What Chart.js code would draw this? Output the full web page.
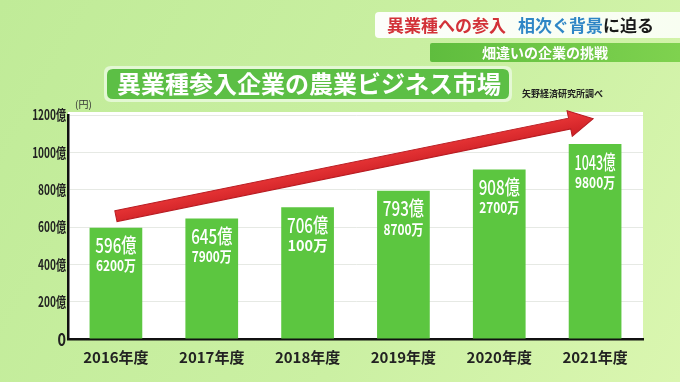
<!DOCTYPE html>
<html>
<head>
<meta charset="utf-8">
<script src="https://cdn.jsdelivr.net/npm/chart.js@4.4.1/dist/chart.umd.min.js"></script>
<style>
  html, body { margin: 0; padding: 0; background: #c8eea0; }
  #c { display: block; }
</style>
</head>
<body>
<canvas id="c" width="680" height="382"></canvas>
<script>
// ---- data ----
const years = ['2016年度', '2017年度', '2018年度', '2019年度', '2020年度', '2021年度'];
const okuPart = [596, 645, 706, 793, 908, 1043];     // 億円
const manPart = [6200, 7900, 100, 8700, 2700, 9800];  // 万円
const marketValues = okuPart.map((o, i) => o + manPart[i] / 10000);
const yTickValues = [0, 200, 400, 600, 800, 1000, 1200];
const yTickLabels = ['0', '200億', '400億', '600億', '800億', '1000億', '1200億'];

const headlineRed = '異業種への参入';
const headlineBlue = '相次ぐ背景';
const headlineBlack = 'に迫る';
const subHeadline = '畑違いの企業の挑戦';
const chartTitle = '異業種参入企業の農業ビジネス市場';
const sourceNote = '矢野経済研究所調べ';
const unitNote = '(円)';

const JP = "'Noto Sans CJK JP', 'Noto Sans', sans-serif";

function roundRect(ctx, x, y, w, h, r) {
  ctx.beginPath();
  ctx.moveTo(x + r, y);
  ctx.lineTo(x + w - r, y);
  ctx.quadraticCurveTo(x + w, y, x + w, y + r);
  ctx.lineTo(x + w, y + h - r);
  ctx.quadraticCurveTo(x + w, y + h, x + w - r, y + h);
  ctx.lineTo(x + r, y + h);
  ctx.quadraticCurveTo(x, y + h, x, y + h - r);
  ctx.lineTo(x, y + r);
  ctx.quadraticCurveTo(x, y, x + r, y);
  ctx.closePath();
}

const decorPlugin = {
  id: 'decor',
  beforeDraw(chart) {
    const ctx = chart.ctx;
    const W = chart.width, H = chart.height;
    const a = chart.chartArea;
    ctx.save();
    const g = ctx.createLinearGradient(0, 0, W, H);
    g.addColorStop(0, '#c0eb98');
    g.addColorStop(0.6, '#cbf0a3');
    g.addColorStop(1, '#daf6b0');
    ctx.fillStyle = g;
    ctx.fillRect(0, 0, W, H);
    // plot panel
    ctx.fillStyle = '#ffffff';
    ctx.fillRect(a.left, a.top - 3, a.right - a.left, a.bottom - a.top + 3);

    // headline banner (white)
    const bg = ctx.createLinearGradient(375, 0, 680, 0);
    bg.addColorStop(0, 'rgba(255,255,255,0.95)');
    bg.addColorStop(1, 'rgba(250,255,245,0.95)');
    ctx.fillStyle = bg;
    roundRect(ctx, 375, 12, 320, 26, 4);
    ctx.fill();
    ctx.textBaseline = 'middle';
    ctx.textAlign = 'left';
    ctx.font = 'bold 17px ' + JP;
    ctx.fillStyle = '#d23238';
    ctx.fillText(headlineRed, 387, 26);
    ctx.fillStyle = '#2f86c6';
    ctx.fillText(headlineBlue, 518, 26);
    ctx.fillStyle = '#1a1a1a';
    ctx.fillText(headlineBlack, 603, 26);

    // sub headline (green)
    const sg = ctx.createLinearGradient(430, 0, 680, 0);
    sg.addColorStop(0, '#5fbd3e');
    sg.addColorStop(1, '#7fd24f');
    ctx.fillStyle = sg;
    roundRect(ctx, 430, 43, 260, 19, 2);
    ctx.fill();
    ctx.font = 'bold 14px ' + JP;
    ctx.fillStyle = '#ffffff';
    ctx.fillText(subHeadline, 482, 53);

    // title box
    ctx.fillStyle = 'rgba(235,250,225,0.8)';
    roundRect(ctx, 104, 66, 408, 36, 7);
    ctx.fill();
    ctx.fillStyle = '#5cbf45';
    roundRect(ctx, 107, 69, 402, 30, 6);
    ctx.fill();
    ctx.font = 'bold 24px ' + JP;
    ctx.fillStyle = '#ffffff';
    ctx.textAlign = 'center';
    ctx.fillText(chartTitle, 309, 84, 390);

    // source note
    ctx.font = 'bold 9px ' + JP;
    ctx.fillStyle = '#222';
    ctx.textAlign = 'left';
    ctx.fillText(sourceNote, 522, 94);

    // unit
    ctx.font = '10px ' + JP;
    ctx.fillStyle = '#333';
    ctx.fillText(unitNote, 75, 104);
    ctx.restore();
  },
  afterDraw(chart) {
    // y-axis tick labels (condensed lettering, placed by the y scale)
    const ctx = chart.ctx;
    const ys = chart.scales.y;
    ctx.save();
    ctx.fillStyle = '#222';
    ctx.textAlign = 'right';
    ctx.textBaseline = 'middle';
    yTickValues.forEach((v, i) => {
      const y = ys.getPixelForValue(v);
      ctx.save();
      ctx.translate(ys.right - 2, v === 0 ? y + 1 : y);
      if (v === 0) {
        ctx.font = 'bold 17px ' + JP;
        ctx.scale(0.85, 1);
      } else {
        ctx.font = 'bold 14px ' + JP;
        ctx.scale(0.72, 1);
      }
      ctx.fillText(yTickLabels[i], 0, 0);
      ctx.restore();
    });
    ctx.restore();
  },
  afterDatasetsDraw(chart) {
    const ctx = chart.ctx;
    const xs = chart.scales.x, ys = chart.scales.y;
    const meta = chart.getDatasetMeta(0);
    ctx.save();
    // bar value labels
    ctx.textAlign = 'center';
    ctx.textBaseline = 'middle';
    ctx.fillStyle = '#ffffff';
    meta.data.forEach((el, i) => {
      const w = el.width;
      ctx.font = '500 20px ' + JP;
      ctx.fillText(okuPart[i] + '億', el.x, el.y + 18, w * 0.78);
      ctx.font = 'bold 15px ' + JP;
      ctx.fillText(manPart[i] + '万', el.x, el.y + 38, w * 0.76);
    });

    // trend arrow
    const x0 = xs.getPixelForValue(0), y0 = ys.getPixelForValue(658);
    const x1 = xs.getPixelForValue(4.98), y1 = ys.getPixelForValue(1180);
    const ang = Math.atan2(y1 - y0, x1 - x0);
    const len = Math.hypot(x1 - x0, y1 - y0);
    const headL = 24, headW = 13, shaftW = 5.5;
    ctx.translate(x0, y0);
    ctx.rotate(ang);
    ctx.beginPath();
    ctx.moveTo(0, -shaftW);
    ctx.lineTo(len - headL, -shaftW);
    ctx.lineTo(len - headL, -headW);
    ctx.lineTo(len, 0);
    ctx.lineTo(len - headL, headW);
    ctx.lineTo(len - headL, shaftW);
    ctx.lineTo(0, shaftW);
    ctx.closePath();
    const ag = ctx.createLinearGradient(0, -headW, 0, headW);
    ag.addColorStop(0, '#ee3a3a');
    ag.addColorStop(1, '#cc1f25');
    ctx.fillStyle = ag;
    ctx.fill();
    ctx.lineWidth = 1;
    ctx.strokeStyle = '#b81c22';
    ctx.stroke();
    ctx.restore();
  }
};

new Chart(document.getElementById('c'), {
  type: 'bar',
  data: {
    labels: years,
    datasets: [{
      data: marketValues,
      backgroundColor: '#5cc640',
      borderWidth: 0,
      categoryPercentage: 1.0,
      barPercentage: 0.55
    }]
  },
  options: {
    responsive: false,
    animation: false,
    devicePixelRatio: 1,
    layout: { padding: { top: 115, right: 37, left: 0, bottom: 0 } },
    plugins: { legend: { display: false }, tooltip: { enabled: false } },
    scales: {
      x: {
        grid: { display: false, drawTicks: false },
        border: { color: '#111', width: 2.5 },
        ticks: { color: '#222', padding: 9, font: { family: JP, size: 15, weight: 'bold' } },
        afterFit(s) { s.height = 43; }
      },
      y: {
        min: 0,
        max: 1200,
        afterBuildTicks(s) { s.ticks = yTickValues.map(v => ({ value: v })); },
        grid: { color: '#e6e9e4', lineWidth: 1, drawTicks: false },
        border: { color: '#111', width: 2.5 },
        ticks: { display: false },
        afterFit(s) { s.width = 68; }
      }
    }
  },
  plugins: [decorPlugin]
});
</script>
</body>
</html>
